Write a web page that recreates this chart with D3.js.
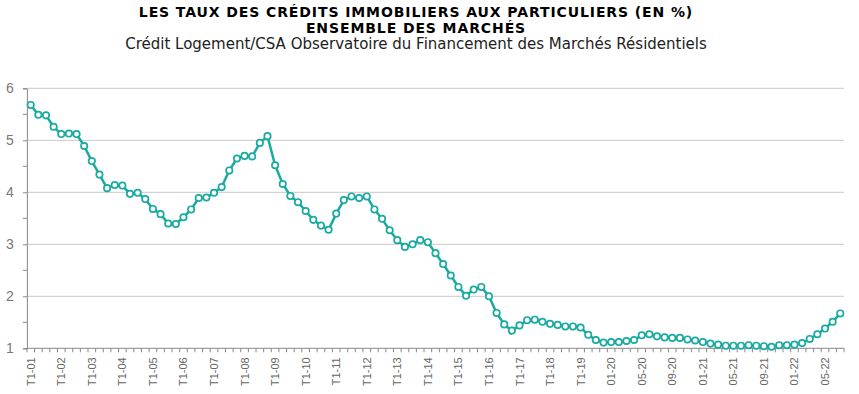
<!DOCTYPE html>
<html>
<head>
<meta charset="utf-8">
<script src="https://cdn.jsdelivr.net/npm/d3@7"></script>
<style>
  body { margin: 0; background: #fff; }
  svg { display: block; }
</style>
</head>
<body>
<div id="chart"></div>
<script>
const width = 859;
const height = 394;
const margin = {top: 88.3, right: 14.9, bottom: 45.7, left: 26.9};

// years shown quarterly (T1..T4), then monthly from 2020
const quarterYears = ['01', '02', '03', '04', '05', '06', '07', '08', '09', '10',
  '11', '12', '13', '14', '15', '16', '17', '18', '19'];
const monthlyPeriods = [
  '01-20', '02-20', '03-20', '04-20', '05-20', '06-20', '07-20', '08-20', '09-20', '10-20', '11-20', '12-20',
  '01-21', '02-21', '03-21', '04-21', '05-21', '06-21', '07-21', '08-21', '09-21', '10-21', '11-21', '12-21',
  '01-22', '02-22', '03-22', '04-22', '05-22', '06-22', '07-22'];

const quarterlyRates = [
  5.68, 5.49, 5.48, 5.26, 5.12, 5.13, 5.12, 4.89, 4.60, 4.34,
  4.08, 4.14, 4.13, 3.97, 3.99, 3.87, 3.68, 3.58, 3.40, 3.39,
  3.52, 3.67, 3.89, 3.90, 3.99, 4.10, 4.42, 4.65, 4.70, 4.69,
  4.95, 5.08, 4.52, 4.16, 3.93, 3.81, 3.64, 3.47, 3.36, 3.28,
  3.59, 3.85, 3.92, 3.89, 3.92, 3.67, 3.49, 3.27, 3.08, 2.95,
  3.00, 3.08, 3.04, 2.83, 2.62, 2.40, 2.18, 2.01, 2.13, 2.18,
  2.00, 1.68, 1.46, 1.34, 1.44, 1.54, 1.55, 1.51, 1.47, 1.45,
  1.42, 1.42, 1.40, 1.26, 1.16, 1.11];
const monthlyRates = [
  1.12, 1.12, 1.14, 1.16, 1.25, 1.27, 1.23, 1.21, 1.20, 1.20,
  1.17, 1.15, 1.12, 1.09, 1.07, 1.05, 1.05, 1.05, 1.06, 1.05,
  1.04, 1.03, 1.06, 1.06, 1.07, 1.10, 1.18, 1.27, 1.38, 1.51, 1.67];

const yTicks = [1, 2, 3, 4, 5, 6];
const yMinorTicks = [1.5, 2.5, 3.5, 4.5, 5.5];

const categories = [];
quarterYears.forEach((y) => ['T1', 'T2', 'T3', 'T4'].forEach((q) => categories.push(q + '-' + y)));
monthlyPeriods.forEach((m) => categories.push(m));
const rates = quarterlyRates.concat(monthlyRates);
const data = categories.map((c, i) => ({period: c, value: rates[i]}));
const labelled = categories.filter((c, i) => i % 4 === 0);

const teal = '#19aaa1';

const svg = d3.select('#chart')
  .append('svg')
    .attr('width', width)
    .attr('height', height);

// titles
svg.append('text')
  .attr('x', 416).attr('y', 17)
  .attr('text-anchor', 'middle')
  .style('font-family', 'DejaVu Sans, Verdana, sans-serif')
  .style('font-weight', 'bold')
  .style('font-size', '14px')
  .style('letter-spacing', '0.9px')
  .style('fill', '#000')
  .text('LES TAUX DES CRÉDITS IMMOBILIERS AUX PARTICULIERS (EN %)');

svg.append('text')
  .attr('x', 416).attr('y', 33)
  .attr('text-anchor', 'middle')
  .style('font-family', 'DejaVu Sans, Verdana, sans-serif')
  .style('font-weight', 'bold')
  .style('font-size', '14px')
  .style('letter-spacing', '0.9px')
  .style('fill', '#000')
  .text('ENSEMBLE DES MARCHÉS');

svg.append('text')
  .attr('x', 416).attr('y', 49)
  .attr('text-anchor', 'middle')
  .style('font-family', 'DejaVu Sans, Verdana, sans-serif')
  .style('font-size', '15px')
  .style('fill', '#222')
  .text('Crédit Logement/CSA Observatoire du Financement des Marchés Résidentiels');

const x = d3.scaleBand()
  .domain(categories)
  .range([margin.left, width - margin.right]);

const y = d3.scaleLinear()
  .domain([1, 6])
  .range([height - margin.bottom, margin.top]);

const xc = (d) => x(d) + x.bandwidth() / 2;

// grid lines
svg.append('g')
  .selectAll('line')
  .data(yTicks.slice(1)).enter().append('line')
  .attr('x1', margin.left).attr('x2', width - margin.right)
  .attr('y1', (d) => y(d)).attr('y2', (d) => y(d))
  .style('stroke', '#c8c8c8')
  .style('stroke-width', 1);

// y axis
const yAxis = svg.append('g')
  .attr('transform', 'translate(' + margin.left + ',0)')
  .call(d3.axisLeft(y).tickValues(yTicks).tickSize(4).tickFormat(d3.format('d')));
yAxis.select('.domain').style('stroke', '#888');
yAxis.selectAll('line').style('stroke', '#888');
yAxis.selectAll('text')
  .attr('x', -13)
  .style('font-family', 'Liberation Sans, Arial, sans-serif')
  .style('font-size', '14px')
  .style('fill', '#777');

svg.append('g')
  .selectAll('line')
  .data(yMinorTicks).enter().append('line')
  .attr('x1', margin.left - 4).attr('x2', margin.left)
  .attr('y1', (d) => y(d)).attr('y2', (d) => y(d))
  .style('stroke', '#888');

// x axis: ticks at category boundaries, labels every 4th period
const xAxisG = svg.append('g')
  .attr('transform', 'translate(0,' + (height - margin.bottom) + ')');
xAxisG.append('line')
  .attr('x1', margin.left).attr('x2', width - margin.right)
  .style('stroke', '#888');
xAxisG.selectAll('line.tick')
  .data(categories.concat(['end'])).enter().append('line')
  .attr('class', 'tick')
  .attr('x1', (d, i) => margin.left + i * x.step())
  .attr('x2', (d, i) => margin.left + i * x.step())
  .attr('y1', 0).attr('y2', 4)
  .style('stroke', '#888');
xAxisG.selectAll('text')
  .data(labelled).enter().append('text')
  .attr('transform', (d) => 'translate(' + (xc(d) + 4) + ',9) rotate(-90)')
  .attr('text-anchor', 'end')
  .style('font-family', 'Liberation Sans, Arial, sans-serif')
  .style('font-size', '11px')
  .style('fill', '#666')
  .text((d) => d);

// series
const line = d3.line()
  .x((d) => xc(d.period))
  .y((d) => y(d.value));

svg.append('path')
  .datum(data)
  .attr('d', line)
  .style('fill', 'none')
  .style('stroke', teal)
  .style('stroke-width', 2.5)
  .style('stroke-linejoin', 'round');

svg.selectAll('circle')
  .data(data).enter().append('circle')
  .attr('cx', (d) => xc(d.period))
  .attr('cy', (d) => y(d.value))
  .attr('r', 3.2)
  .style('fill', '#fff')
  .style('stroke', teal)
  .style('stroke-width', 1.7);
</script>
</body>
</html>
